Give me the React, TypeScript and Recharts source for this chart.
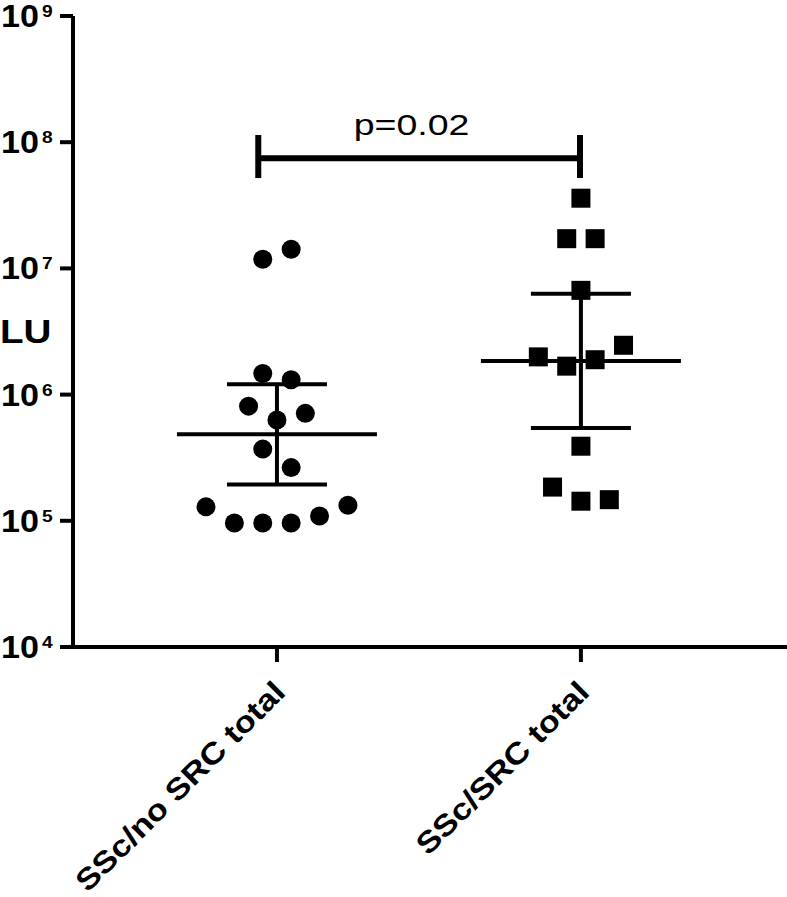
import React from 'react';
import { ScatterChart, Scatter, XAxis, YAxis, ReferenceLine, ReferenceDot } from 'recharts';

const categories = ['SSc/no SRC total', 'SSc/SRC total'];
const yTicks = [1e4, 1e5, 1e6, 1e7, 1e8, 1e9];

// Group 1: SSc/no SRC total (circles)
const noSrcValues = [1.18e7, 1.42e7, 1.47e6, 1.31e6, 8.1e5, 6.3e5, 7.1e5, 3.7e5, 2.64e5, 1.29e5, 9.6e4, 9.6e4, 9.6e4, 1.09e5, 1.33e5];
const noSrcSlots = [-0.5, 0.5, -0.5, 0.5, -1, 0, 1, -0.5, 0.5, -2.5, -1.5, -0.5, 0.5, 1.5, 2.5];

// Group 2: SSc/SRC total (squares)
const srcValues = [3.6e7, 1.72e7, 1.72e7, 6.7e6, 1.99e6, 1.68e6, 1.89e6, 2.46e6, 3.9e5, 1.85e5, 1.43e5, 1.47e5];
const srcSlots = [0, -0.5, 0.5, 0, -1.5, -0.5, 0.5, 1.5, 0, -1, 0, 1];

// Summary lines (geometric mean with error range)
const means = [4.84e5, 1.85e6];
const errLow = [1.94e5, 5.44e5];
const errHigh = [1.21e6, 6.3e6];

// Significance bracket
const bracket = { x1: 0.9385, x2: 1.997, y: 7.45e7, legLow: 5.2e7, legHigh: 1.14e8 };
const pLabel = { text: 'p=0.02', x: 1.443, y: 1.14e8 };

const FONT = '"Liberation Sans", Arial, Helvetica, sans-serif';
const SLOT = 0.0934;
const MEAN_HALF = 0.329;
const CAP_HALF = 0.1645;

const groupData = (group: number, values: number[], slots: number[]) =>
  values.map((v, i) => ({ x: group + slots[i] * SLOT, y: v }));

const data1 = groupData(1, noSrcValues, noSrcSlots);
const data2 = groupData(2, srcValues, srcSlots);

const CircleShape = (p: any) => <circle cx={p.cx} cy={p.cy} r={9.5} fill="#000" />;
const SquareShape = (p: any) => (
  <rect x={p.cx - 9.5} y={p.cy - 9.5} width={19} height={19} fill="#000" />
);

const YTick = (props: any) => {
  const { x, y, payload } = props;
  const exp = Math.round(Math.log10(payload.value));
  return (
    <g>
      <text
        transform={`translate(${x - 21},${y + 11}) scale(1.1,1)`}
        textAnchor="end"
        fontSize={31}
        fontWeight="bold"
        fontFamily={FONT}
        fill="#000"
      >
        10
      </text>
      <text
        transform={`translate(${x - 18},${y + 1}) scale(1.2,1)`}
        textAnchor="start"
        fontSize={16}
        fontWeight="bold"
        fontFamily={FONT}
        fill="#000"
      >
        {exp}
      </text>
    </g>
  );
};

const XTick = (props: any) => {
  const { x, y, payload } = props;
  const label = categories[Math.round(payload.value) - 1] ?? '';
  return (
    <text
      transform={`translate(${x + 10},${y + 32}) rotate(-45) scale(1.15,1)`}
      textAnchor="end"
      fontSize={30}
      fontWeight="bold"
      fontFamily={FONT}
      fill="#000"
    >
      {label}
    </text>
  );
};

const YLabel = (props: any) => {
  const vb = props.viewBox || { x: 0, y: 16, width: 73, height: 631 };
  return (
    <text
      transform={`translate(${vb.x},${vb.y + vb.height / 2 + 11}) scale(1.17,1)`}
      textAnchor="start"
      fontSize={33}
      fontWeight="bold"
      fontFamily={FONT}
      fill="#000"
    >
      LU
    </text>
  );
};

const PText = (p: any) => (
  <text
    transform={`translate(${p.cx},${p.cy}) scale(1.25,1)`}
    textAnchor="middle"
    fontSize={30}
    fontFamily={FONT}
    fill="#000"
  >
    {pLabel.text}
  </text>
);

const line = { stroke: '#000', strokeWidth: 4 } as const;

export default function App() {
  return (
    <div style={{ position: 'absolute', left: 0, top: 0, background: '#fff' }}>
      <ScatterChart width={787} height={897} margin={{ top: 16, right: 0, bottom: 0, left: 0 }}>
        <XAxis
          type="number"
          dataKey="x"
          domain={[0.329, 2.678]}
          allowDataOverflow
          ticks={[1, 2]}
          tick={<XTick />}
          tickSize={15}
          tickMargin={0}
          height={250}
          axisLine={{ stroke: '#000', strokeWidth: 4 }}
          tickLine={{ stroke: '#000', strokeWidth: 4 }}
        />
        <YAxis
          type="number"
          dataKey="y"
          scale="log"
          domain={[1e4, 1e9]}
          allowDataOverflow
          ticks={yTicks}
          tick={<YTick />}
          tickSize={13}
          tickMargin={0}
          width={73}
          axisLine={{ stroke: '#000', strokeWidth: 4 }}
          tickLine={{ stroke: '#000', strokeWidth: 4 }}
          label={{ content: <YLabel /> }}
        />
        {means.map((m, i) => {
          const g = i + 1;
          return (
            <React.Fragment key={g}>
              <ReferenceLine
                segment={[{ x: g - MEAN_HALF, y: m }, { x: g + MEAN_HALF, y: m }]}
                {...line}
              />
              <ReferenceLine
                segment={[{ x: g, y: errLow[i] }, { x: g, y: errHigh[i] }]}
                {...line}
              />
              <ReferenceLine
                segment={[{ x: g - CAP_HALF, y: errLow[i] }, { x: g + CAP_HALF, y: errLow[i] }]}
                {...line}
              />
              <ReferenceLine
                segment={[{ x: g - CAP_HALF, y: errHigh[i] }, { x: g + CAP_HALF, y: errHigh[i] }]}
                {...line}
              />
            </React.Fragment>
          );
        })}
        <ReferenceLine
          segment={[{ x: bracket.x1, y: bracket.y }, { x: bracket.x2, y: bracket.y }]}
          stroke="#000"
          strokeWidth={6}
        />
        <ReferenceLine
          segment={[{ x: bracket.x1, y: bracket.legLow }, { x: bracket.x1, y: bracket.legHigh }]}
          stroke="#000"
          strokeWidth={6}
        />
        <ReferenceLine
          segment={[{ x: bracket.x2, y: bracket.legLow }, { x: bracket.x2, y: bracket.legHigh }]}
          stroke="#000"
          strokeWidth={6}
        />
        <ReferenceDot x={pLabel.x} y={pLabel.y} r={0} shape={PText} />
        <Scatter data={data1} shape={CircleShape} isAnimationActive={false} />
        <Scatter data={data2} shape={SquareShape} isAnimationActive={false} />
      </ScatterChart>
    </div>
  );
}
